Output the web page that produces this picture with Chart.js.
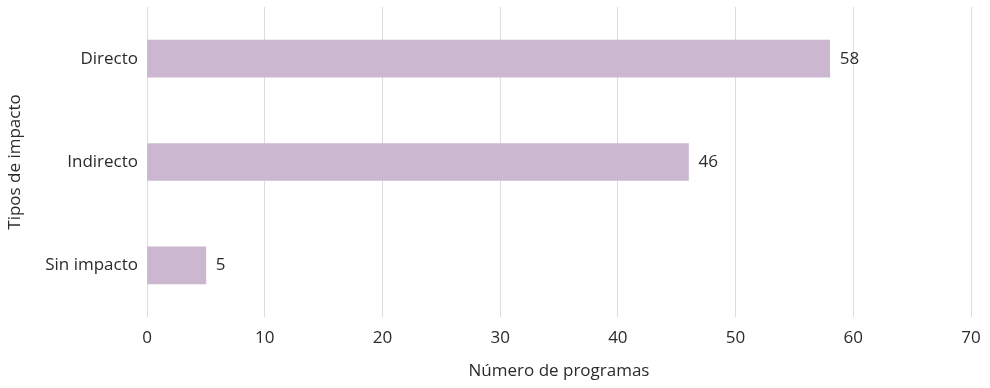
<!DOCTYPE html>
<html>
<head>
<meta charset="utf-8">
<script src="https://cdn.jsdelivr.net/npm/chart.js@4.4.0/dist/chart.umd.min.js"></script>
<style>
  html, body { margin: 0; padding: 0; background: #fff; }
  #wrap { width: 990px; height: 388px; position: relative; }
</style>
</head>
<body>
<div id="wrap"><canvas id="chart"></canvas></div>
<script>
// Tipos de impacto vs número de programas
const categories = ['Directo', 'Indirecto', 'Sin impacto'];
const values = [58, 46, 5];
const xTicks = [0, 10, 20, 30, 40, 50, 60, 70];

const BAR_COLOR = '#cbb7cf';
const TEXT_COLOR = '#2b2b2b';
const FONT = "'Open Sans', 'Noto Sans', sans-serif";
const FONT_SIZE = 17;

// value labels at the end of each bar
const barLabels = {
  id: 'barLabels',
  afterDatasetsDraw(chart) {
    const { ctx } = chart;
    const meta = chart.getDatasetMeta(0);
    ctx.save();
    ctx.font = `${FONT_SIZE}px ${FONT}`;
    ctx.fillStyle = TEXT_COLOR;
    ctx.textAlign = 'left';
    ctx.textBaseline = 'middle';
    meta.data.forEach((bar, i) => {
      ctx.fillText(String(values[i]), bar.x + 10, bar.y);
    });
    ctx.restore();
  }
};

new Chart(document.getElementById('chart'), {
  type: 'bar',
  data: {
    labels: categories,
    datasets: [{
      data: values,
      backgroundColor: BAR_COLOR,
      borderWidth: 0,
      barThickness: 37
    }]
  },
  options: {
    indexAxis: 'y',
    responsive: true, maintainAspectRatio: false,
    animation: false,
    layout: { padding: { top: 7, right: 19, left: 0, bottom: 0 } },
    plugins: { legend: { display: false }, tooltip: { enabled: false } },
    scales: {
      x: {
        min: 0, max: 70,
        afterBuildTicks: s => { s.ticks = xTicks.map(v => ({ value: v })); },
        afterFit: s => { s.height = 71; s.paddingLeft = 0; s.paddingRight = 0; },
        grid: { color: '#dddddd', lineWidth: 1, drawTicks: false },
        border: { display: false },
        ticks: { color: TEXT_COLOR, font: { size: FONT_SIZE, family: FONT }, padding: 11 },
        title: {
          display: true, text: 'Número de programas', color: TEXT_COLOR,
          font: { size: FONT_SIZE, family: FONT }, padding: { top: 4, bottom: 7 }
        }
      },
      y: {
        afterFit: s => { s.width = 147; s.paddingTop = 0; s.paddingBottom = 0; },
        grid: { display: false },
        border: { display: false },
        ticks: { color: TEXT_COLOR, font: { size: FONT_SIZE, family: FONT }, padding: 1 },
        title: {
          display: true, text: 'Tipos de impacto', color: TEXT_COLOR,
          font: { size: FONT_SIZE, family: FONT }, padding: { top: 5, bottom: 0 }
        }
      }
    }
  },
  plugins: [barLabels]
});
</script>
</body>
</html>
